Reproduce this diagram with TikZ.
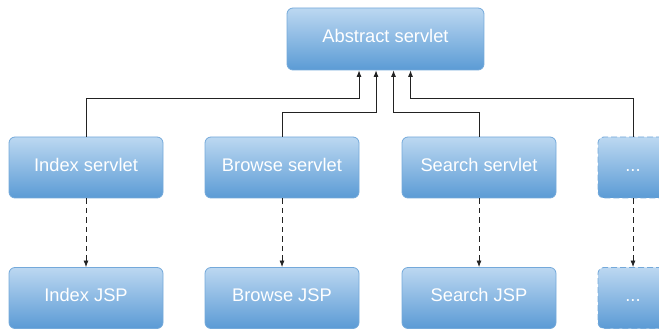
\documentclass[tikz,border=0pt]{standalone}
\usepackage{fontspec}
\setmainfont{Liberation Sans}
\usetikzlibrary{arrows.meta,calc}
\definecolor{boxtop}{HTML}{BCD8F1}
\definecolor{boxbot}{HTML}{5B9BD5}
\definecolor{boxline}{HTML}{74A9DA}
\definecolor{lineclr}{HTML}{222222}
\tikzset{
  blockbox/.style={rectangle, rounded corners=6pt, draw=boxline, line width=0.8pt,
    top color=boxtop, bottom color=boxbot, text=white, minimum width=154pt,
    minimum height=61pt, inner sep=0pt, text height=13.3pt, text depth=5.5pt,
    font=\fontsize{18.3}{20}\selectfont},
  morebox/.style={blockbox, dashed, dash pattern=on 6pt off 3pt, minimum width=70pt},
  conn/.style={draw=lineclr, line width=0.8pt, -{Latex[length=6.5pt,width=5pt]}},
  dconn/.style={conn, dash pattern=on 5.5pt off 4pt},
}
\begin{document}
\begin{tikzpicture}[x=1pt,y=-1pt]
\useasboundingbox (0,0) rectangle (659,331);
\clip (0,0) rectangle (659,331);
\node[blockbox, minimum width=197pt, minimum height=62pt] (abs) at (385.5,39) {Abstract servlet};
\node[blockbox] (idx) at (86,167.5) {Index servlet};
\node[blockbox] (brw) at (282,167.5) {Browse servlet};
\node[blockbox] (src) at (479,167.5) {Search servlet};
\node[morebox] (mor) at (633,167.5) {...};
\node[blockbox] (idxj) at (86,298) {Index JSP};
\node[blockbox] (brwj) at (282,298) {Browse JSP};
\node[blockbox] (srcj) at (479,298) {Search JSP};
\node[morebox] (morj) at (633,298) {...};
\draw[conn] (idx.north) -- (idx.north |- 0,98) -| ($(abs.south)+(-26.5,0)$);
\draw[conn] (brw.north) -- (brw.north |- 0,112) -| ($(abs.south)+(-9.5,0)$);
\draw[conn] (src.north) -- (src.north |- 0,112) -| ($(abs.south)+(8,0)$);
\draw[conn] (mor.north) -- (mor.north |- 0,98) -| ($(abs.south)+(25,0)$);
\draw[dconn] (idx.south) -- (idxj.north);
\draw[dconn] (brw.south) -- (brwj.north);
\draw[dconn] (src.south) -- (srcj.north);
\draw[dconn] (mor.south) -- (morj.north);
\end{tikzpicture}
\end{document}
